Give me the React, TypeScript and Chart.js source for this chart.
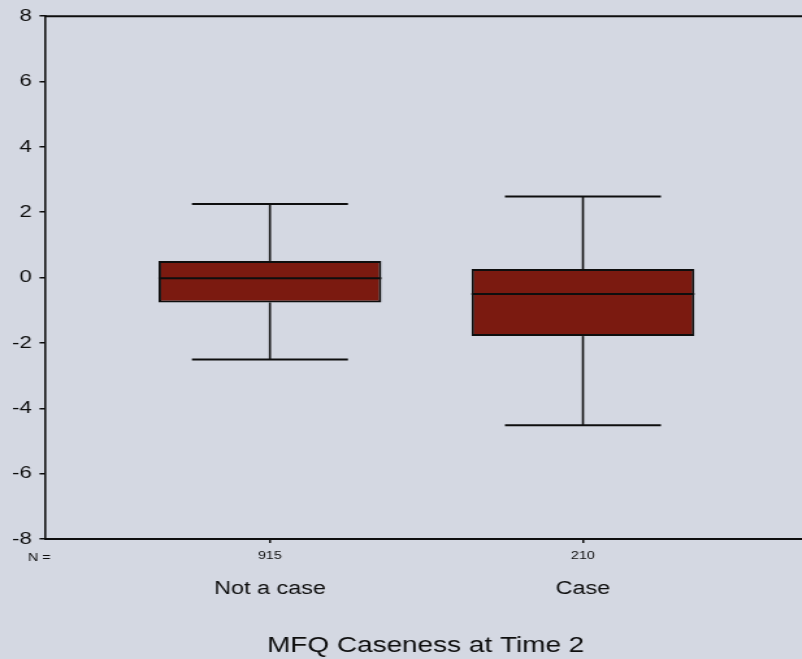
import { useEffect, useRef } from "react";
import { Chart, registerables } from "chart.js";

Chart.register(...registerables);

// Groups, sample sizes and five-number summaries of the boxplot
const groups = ["Not a case", "Case"];
const counts = ["915", "210"];
const whiskerLow = [-2.51, -4.52];
const q1 = [-0.76, -1.79];
const medians = [-0.02, -0.5];
const q3 = [0.51, 0.26];
const whiskerHigh = [2.25, 2.48];
const yMin = -8;
const yMax = 8;
const yStep = 2;
const xTitle = "MFQ Caseness at Time 2";
const countPrefix = "N =";

const INK = "#0e0e0e";
const BOX_FILL = "#7b1a10";
const PAGE = "#d4d8e2";
const FONT = "'Liberation Sans', Arial, Helvetica, sans-serif";
// The chart is drawn narrow and widened by this factor on screen
const STRETCH = 1.3;
const W = 624;
const H = 659;
const CAP_RATIO = 0.7;

const boxplotExtras = {
  id: "boxplotExtras",
  afterDatasetsDraw(chart: any) {
    const { ctx } = chart;
    const y = chart.scales.y;
    const meta = chart.getDatasetMeta(0);
    const seg = (x1: number, y1: number, x2: number, y2: number, w: number) => {
      ctx.lineWidth = w;
      ctx.beginPath();
      ctx.moveTo(x1, y1);
      ctx.lineTo(x2, y2);
      ctx.stroke();
    };
    ctx.save();
    ctx.strokeStyle = INK;
    ctx.lineCap = "butt";
    meta.data.forEach((bar: any, i: number) => {
      const { x, width } = bar.getProps(["x", "width"], true);
      const half = width / 2;
      const cap = half * CAP_RATIO;
      const yMed = y.getPixelForValue(medians[i]);
      const yQ1 = y.getPixelForValue(q1[i]);
      const yQ3 = y.getPixelForValue(q3[i]);
      const yLo = y.getPixelForValue(whiskerLow[i]);
      const yHi = y.getPixelForValue(whiskerHigh[i]);
      seg(x - half, yMed, x + half, yMed, 2);
      seg(x, yQ3, x, yHi, 1.6);
      seg(x, yQ1, x, yLo, 1.6);
      seg(x - cap, yHi, x + cap, yHi, 2);
      seg(x - cap, yLo, x + cap, yLo, 2);
    });
    ctx.restore();
  },
  afterDraw(chart: any) {
    const { ctx, chartArea } = chart;
    const xs = chart.scales.x;
    ctx.save();
    // frame along the top and right of the plot
    ctx.strokeStyle = INK;
    ctx.lineWidth = 2;
    ctx.beginPath();
    ctx.moveTo(chartArea.left, chartArea.top);
    ctx.lineTo(chartArea.right, chartArea.top);
    ctx.lineTo(chartArea.right, chartArea.bottom);
    ctx.stroke();

    ctx.fillStyle = INK;
    ctx.textBaseline = "alphabetic";
    ctx.font = `11px ${FONT}`;
    ctx.textAlign = "left";
    ctx.fillText(countPrefix, 21.5, 561);

    ctx.font = `18px ${FONT}`;
    ctx.textAlign = "center";
    groups.forEach((g, i) => {
      ctx.fillText(g, xs.getPixelForValue(i + 1), 594);
    });
    ctx.restore();
  },
};

export default function App() {
  const canvasRef = useRef<HTMLCanvasElement | null>(null);

  useEffect(() => {
    const canvas = canvasRef.current;
    if (!canvas) return;
    const chart = new Chart(canvas, {
      type: "bar",
      data: {
        datasets: [
          {
            data: groups.map((_, i) => ({ x: i + 1, y: [q1[i], q3[i]] })) as any,
            backgroundColor: BOX_FILL,
            borderColor: INK,
            borderWidth: 2,
            borderSkipped: false,
            barPercentage: 0.712,
            categoryPercentage: 1,
          },
        ],
      },
      options: {
        responsive: false,
        animation: false,
        events: [],
        layout: { padding: { top: 16, right: 4, left: 0, bottom: 0 } },
        plugins: {
          legend: { display: false },
          title: { display: false },
          tooltip: { enabled: false },
        },
        scales: {
          x: {
            type: "linear",
            offset: false,
            min: 0.283,
            max: 2.712,
            afterBuildTicks: (scale: any) => {
              scale.ticks = groups.map((_, i) => ({ value: i + 1 }));
            },
            afterFit: (scale: any) => {
              scale.height = 120;
            },
            ticks: {
              color: INK,
              font: { family: FONT, size: 11 },
              padding: 6,
              maxRotation: 0,
              autoSkip: false,
              callback: (v: any) => counts[Number(v) - 1] ?? "",
            },
            grid: {
              display: true,
              offset: false,
              drawOnChartArea: false,
              drawTicks: true,
              tickLength: 4,
              color: INK,
              lineWidth: 1.5,
            },
            border: { display: true, color: INK, width: 2 },
            title: {
              display: true,
              text: xTitle,
              color: INK,
              font: { family: FONT, size: 21.5 },
              padding: { top: 1, bottom: 0 },
            },
          },
          y: {
            type: "linear",
            min: yMin,
            max: yMax,
            afterFit: (scale: any) => {
              scale.width = 35;
            },
            ticks: {
              stepSize: yStep,
              color: INK,
              font: { family: FONT, size: 17 },
              padding: 6,
            },
            grid: {
              display: true,
              drawOnChartArea: false,
              drawTicks: true,
              tickLength: 4.6,
              color: INK,
              lineWidth: 1.5,
            },
            border: { display: true, color: INK, width: 1.6 },
          },
        },
      },
      plugins: [boxplotExtras],
    });
    return () => chart.destroy();
  }, []);

  return (
    <div
      style={{
        position: "fixed",
        left: 0,
        top: 0,
        width: 802,
        height: 659,
        overflow: "hidden",
        background: PAGE,
      }}
    >
      <canvas
        ref={canvasRef}
        width={W}
        height={H}
        style={{ width: W * STRETCH, height: H, display: "block" }}
      />
    </div>
  );
}
